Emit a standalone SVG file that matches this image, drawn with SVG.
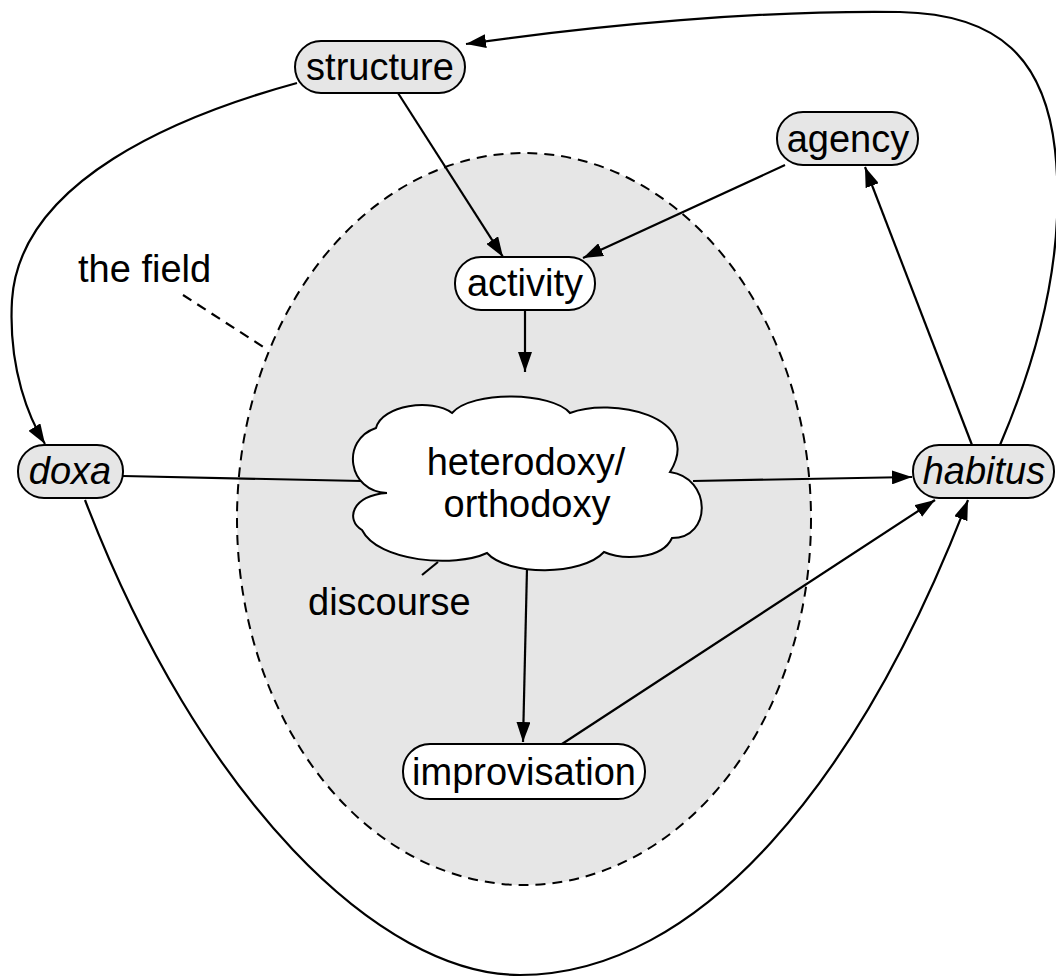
<svg xmlns="http://www.w3.org/2000/svg" width="1056" height="977" viewBox="0 0 1056 977">
<style>
.pill{stroke:#000;stroke-width:2}
.gray{fill:#e6e6e6}
.white{fill:#fff}
.lbl{font-family:"Liberation Sans",Arial,Helvetica,sans-serif;font-size:38px;fill:#000}
.it{font-style:italic}
.conn{fill:none;stroke:#000;stroke-width:2.2}
</style>
<defs>
<marker id="ah" viewBox="0 0 20 14" refX="20" refY="7" markerWidth="20" markerHeight="14" markerUnits="userSpaceOnUse" orient="auto">
<path d="M0,0 L20,7 L0,14 Z" fill="#000"/>
</marker>
</defs>
<rect width="1056" height="977" fill="#fff"/>
<g id="field">
<ellipse cx="524" cy="519" rx="287" ry="366" fill="#e6e6e6" stroke="#000" stroke-width="2" stroke-dasharray="10,7"/>
</g>
<g id="connectors">
<path class="conn" d="M398,93 L503,257" marker-end="url(#ah)"/>
<path class="conn" d="M785,165 L583,258" marker-end="url(#ah)"/>
<path class="conn" d="M525,311 L525,372" marker-end="url(#ah)"/>
<path class="conn" d="M123,476 L362,481"/>
<path class="conn" d="M693,481 L912,477" marker-end="url(#ah)"/>
<path class="conn" d="M527,568 L523,742" marker-end="url(#ah)"/>
<path class="conn" d="M562,744 L935,500" marker-end="url(#ah)"/>
<path class="conn" d="M972,445 L865,167" marker-end="url(#ah)"/>
<path class="conn" d="M1000,445 C1045,340 1065,240 1055,150 C1045,60 1000,14 900,12 C760,10 600,25 466,44" marker-end="url(#ah)"/>
<path class="conn" d="M297,83 C180,115 20,180 12,300 C8,370 30,420 45,444" marker-end="url(#ah)"/>
<path class="conn" d="M85,500 C200,800 380,975 520,975 C700,975 860,780 968,500" marker-end="url(#ah)"/>
<path class="conn" d="M183,295 L268,350" stroke-dasharray="10,7"/>
<path class="conn" d="M422,575 L438,562"/>
</g>
<g id="structure">
<rect class="pill gray" x="295" y="41" width="170" height="52" rx="26"/>
<text class="lbl" x="380" y="80" text-anchor="middle">structure</text>
</g>
<g id="agency">
<rect class="pill gray" x="777" y="112" width="141" height="53" rx="26"/>
<text class="lbl" x="848" y="152" text-anchor="middle">agency</text>
</g>
<g id="activity">
<rect class="pill white" x="455" y="257" width="140" height="53" rx="26"/>
<text class="lbl" x="525" y="296" text-anchor="middle">activity</text>
</g>
<g id="doxa">
<rect class="pill gray" x="18" y="445" width="105" height="53" rx="26"/>
<text class="lbl it" x="70" y="484" text-anchor="middle">doxa</text>
</g>
<g id="habitus">
<rect class="pill gray" x="913" y="445" width="141" height="53" rx="26"/>
<text class="lbl it" x="984" y="484" text-anchor="middle">habitus</text>
</g>
<g id="improvisation">
<rect class="pill white" x="403" y="744" width="242" height="55" rx="27"/>
<text class="lbl" x="524" y="785" text-anchor="middle">improvisation</text>
</g>
<g id="cloud">
<path d="M387,493 C348,492 340,440 376,428 C382,405 432,398 452,413 C472,390 552,392 570,413 C610,397 705,415 670,472 C712,478 712,538 672,538 C662,560 622,560 604,552 C582,576 508,576 487,553 C455,568 378,562 362,530 C345,520 352,495 387,493 Z" fill="#fff" stroke="#000" stroke-width="2"/>
<text class="lbl" x="526" y="475" text-anchor="middle">heterodoxy/</text>
<text class="lbl" x="527" y="517" text-anchor="middle">orthodoxy</text>
</g>
<g id="labels">
<text class="lbl" x="78" y="282">the field</text>
<text class="lbl" x="308" y="615">discourse</text>
</g>
</svg>
